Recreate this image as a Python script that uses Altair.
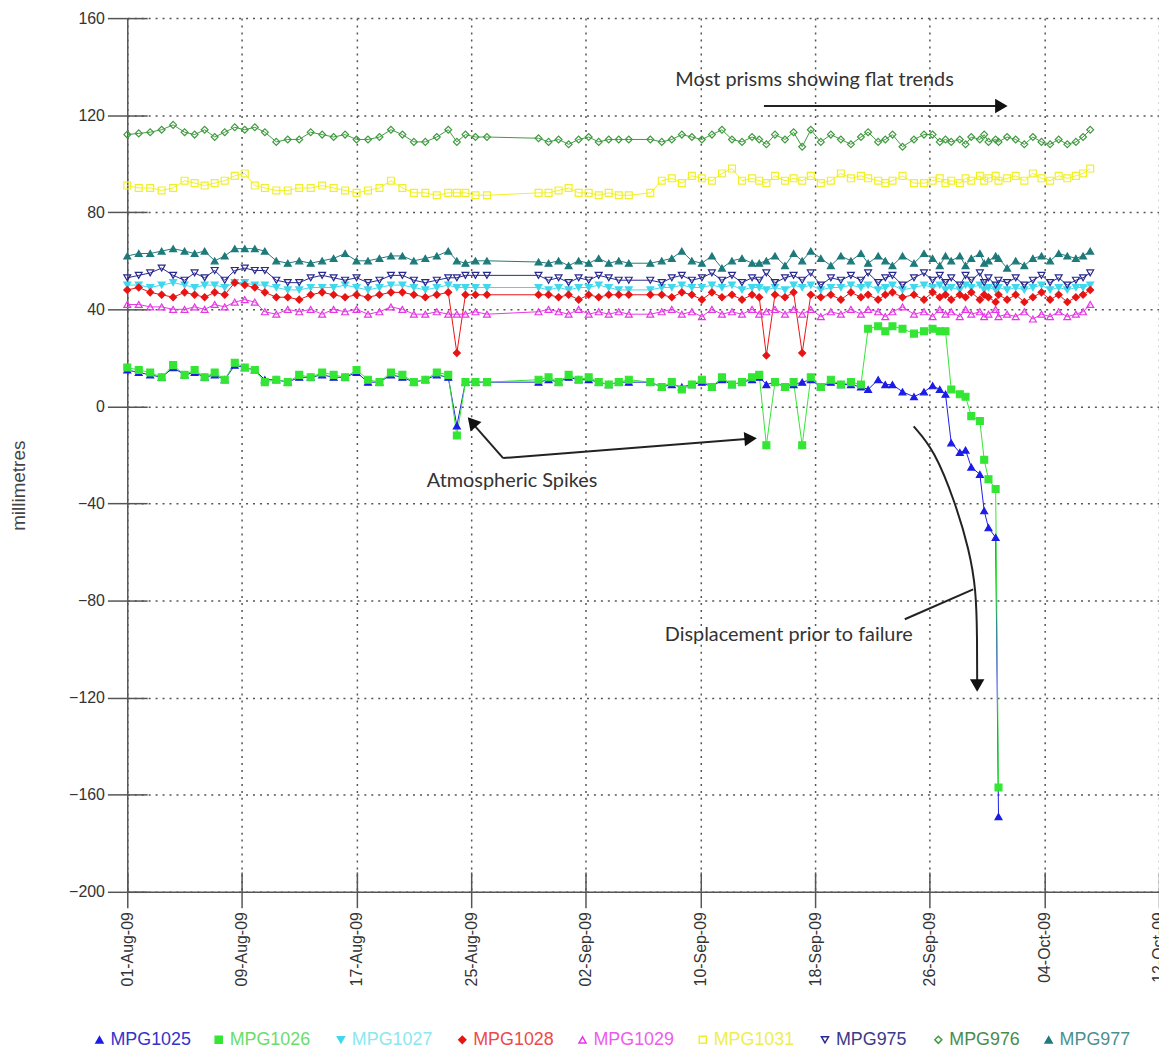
import altair as alt
import pandas as pd

# ---------------- data ----------------
# observation times, in days after 01-Aug-2009
DAYS = [
    0.0, 0.8, 1.6, 2.4, 3.2, 4.0, 4.7, 5.4, 6.1, 6.8,
    7.5, 8.2, 8.9, 9.6, 10.4, 11.2, 12.0, 12.8, 13.6, 14.4,
    15.2, 16.0, 16.8, 17.6, 18.4, 19.2, 20.0, 20.8, 21.6, 22.4,
    23.0, 23.6, 24.3, 25.1, 28.7, 29.4, 30.1, 30.8, 31.5, 32.2,
    32.9, 33.6, 34.3, 35.0, 36.5, 37.3, 38.0, 38.7, 39.4, 40.1,
    40.8, 41.5, 42.2, 42.9, 43.6, 44.1, 44.6, 45.2, 45.9, 46.5,
    47.1, 47.7, 48.4, 49.1, 49.8, 50.5, 51.2, 51.7, 52.4, 52.9,
    53.4, 54.1, 54.9, 55.6, 56.2, 56.7, 57.1, 57.5, 58.1, 58.5,
    58.9, 59.5, 59.8, 60.1, 60.6, 60.8, 61.4, 62.0, 62.6, 63.2,
    63.8, 64.4, 65.0, 65.6, 66.2, 66.7, 67.2,
]
N = None
MPG1025 = [
    15, 14, 13, 12, 16, 13, 14, 12, 13, 11,
    17, 16, 15, 11, 11, 10, 12, 12, 13, 12,
    12, 14, 10, 10, 13, 12, 10, 11, 13, 12,
    -8, 10, 10, 10, 10, 11, 10, 12, 11, 11,
    10, 9, 10, 10, 10, 8, 9, 8, 9, 10,
    8, 11, 9, 10, 11, 12, 9, 10, 8, 9,
    10, 11, 8, 10, 9, 9, 8, 7, 11, 9,
    9, 6, 4, 6, 8.5, 7, 5, -15, -19, -18,
    -25, -28, -43, -50, -54, -169, N, N, N, N,
    N, N, N, N, N, N, N,
]
MPG1026 = [
    16, 15, 14, 12, 17, 13, 15, 12, 14, 11,
    18, 16, 15, 10, 11, 10, 13, 12, 14, 13,
    12, 15, 11, 10, 14, 13, 10, 11, 14, 13,
    -12, 10, 10, 10, 11, 12, 10, 13, 11, 12,
    10, 9, 10, 11, 10, 8, 10, 7, 9, 11,
    8, 12, 9, 10, 12, 13, -16, 10, 8, 10,
    -16, 12, 8, 11, 9, 10, 9, 32, 33, 31,
    33, 32, 30, 31, 32, 31, 31, 7, 5, 4,
    -4, -6, -22, -30, -34, -157, N, N, N, N,
    N, N, N, N, N, N, N,
]
MPG1027 = [
    50, 50, 49, 50, 51, 50, 49, 50, 50, 49,
    51, 51, 50, 50, 49, 48, 48, 49, 49, 49,
    50, 49, 48, 49, 50, 50, 49, 48, 49, 50,
    49, 49, 49, 49, 49, 48, 49, 48, 49, 49,
    50, 49, 48, 48, 48, 49, 49, 50, 49, 49,
    50, 49, 50, 48, 49, 49, 48, 49, 48, 50,
    49, 50, 48, 49, 49, 50, 49, 50, 48, 49,
    50, 48, 49, 50, 49, 50, 48, 49, 48, 50,
    49, 50, 48, 49, 48, 49, 48, 49, 48, 49,
    50, 48, 49, 48, 49, 49, 50,
]
MPG1028 = [
    48, 49, 47, 46, 45, 47, 46, 45, 47, 46,
    51, 50, 49, 47, 45, 45, 44, 46, 47, 46,
    45, 46, 45, 46, 47, 47, 46, 45, 46, 47,
    22, 46, 46, 46, 46, 46, 45, 46, 44, 46,
    45, 46, 46, 46, 46, 46, 45, 47, 46, 44,
    47, 45, 46, 44, 46, 45, 21, 46, 45, 47,
    22, 46, 45, 46, 44, 47, 45, 46, 44, 46,
    47, 45, 46, 44, 47, 45, 46, 44, 46, 45,
    47, 44, 46, 45, 43, 46, 44, 46, 43, 45,
    47, 44, 46, 43, 45, 46, 48,
]
MPG1029 = [
    42, 42, 41, 41, 40, 40, 41, 40, 42, 41,
    43, 44, 43, 39, 38, 40, 39, 40, 38, 40,
    39, 40, 38, 39, 41, 40, 38, 38, 39, 38,
    38, 38, 39, 38, 39, 40, 39, 38, 40, 38,
    39, 38, 39, 38, 38, 39, 40, 38, 39, 37,
    40, 38, 39, 38, 40, 38, 39, 40, 38, 40,
    38, 40, 37, 39, 38, 40, 38, 40, 39, 37,
    39, 41, 38, 39, 37, 40, 38, 39, 37, 40,
    38, 39, 37, 38, 40, 37, 38, 37, 39, 36,
    38, 37, 39, 37, 38, 39, 42,
]
MPG1031 = [
    91, 90, 90, 89, 90, 93, 92, 91, 92, 93,
    95, 96, 91, 90, 89, 89, 90, 90, 91, 90,
    89, 88, 89, 90, 93, 90, 88, 88, 87, 88,
    88, 88, 87, 87, 88, 88, 89, 90, 88, 88,
    87, 88, 87, 87, 88, 93, 94, 92, 95, 94,
    93, 96, 98, 93, 94, 93, 92, 95, 93, 94,
    93, 95, 92, 93, 96, 94, 95, 94, 93, 92,
    93, 95, 92, 92, 93, 94, 92, 93, 92, 94,
    93, 95, 93, 94, 95, 93, 94, 95, 93, 96,
    94, 93, 95, 94, 95, 96, 98,
]
MPG975 = [
    53, 54, 55, 57, 54, 52, 55, 53, 56, 52,
    56, 57, 56, 56, 52, 51, 51, 53, 54, 53,
    52, 53, 51, 52, 54, 54, 52, 51, 52, 53,
    53, 54, 54, 54, 54, 52, 53, 51, 53, 52,
    54, 53, 52, 52, 52, 51, 53, 54, 52, 53,
    55, 52, 54, 51, 53, 52, 55, 51, 53, 54,
    52, 55, 50, 53, 52, 54, 52, 55, 51, 53,
    54, 50, 53, 55, 52, 54, 51, 53, 50, 54,
    52, 55, 51, 53, 50, 52, 51, 53, 50, 52,
    54, 51, 53, 50, 52, 53, 55,
]
MPG976 = [
    112, 112.5, 113, 114, 116, 113, 112, 114, 111, 113,
    115, 114, 115, 113, 109, 110, 110, 113, 112, 111,
    112, 110, 110, 111, 114, 112, 109, 109, 111, 114,
    109, 112, 111, 111, 110.5, 109, 110, 108, 110, 111,
    109, 110, 110, 110, 110, 109, 110, 112, 111, 110,
    112, 114, 110, 109, 111, 110, 108, 112, 110, 113,
    107, 114, 109, 112, 110, 108, 111, 113, 109, 110,
    112, 107, 110, 112, 112, 109, 110, 109, 110, 108,
    111, 110, 112, 109, 110, 109, 111, 110, 108, 111,
    109, 108, 110, 108, 109, 111, 114,
]
MPG977 = [
    62, 63, 63, 64, 65, 64, 63, 64, 60, 62,
    65, 65, 65, 64, 60, 59, 60, 59, 60, 61,
    63, 60, 60, 61, 62, 62, 60, 61, 62, 64,
    60, 59, 60, 60, 59.5, 59, 60, 58, 60, 59,
    61, 59, 60, 59, 59, 60, 61, 64, 60, 59,
    62, 57, 60, 61, 59, 59, 60, 62, 58, 63,
    60, 64, 61, 58, 62, 60, 63, 59, 62, 60,
    58, 62, 59, 63, 61, 58, 62, 60, 62, 58,
    61, 63, 59, 60, 62, 61, 57, 60, 58, 61,
    62, 60, 63, 62, 61, 62, 64,
]

SERIES = ["MPG1025", "MPG1026", "MPG1027", "MPG1028", "MPG1029",
          "MPG1031", "MPG975", "MPG976", "MPG977"]
VALUES = [MPG1025, MPG1026, MPG1027, MPG1028, MPG1029,
          MPG1031, MPG975, MPG976, MPG977]
COLORS = ["#1c1ce8", "#33e633", "#3fd8ec", "#e81414", "#e636e6",
          "#f0f028", "#28288f", "#3f9a3f", "#1f7a7a"]
LABEL_COLORS = ["#3434c8", "#6add6a", "#8ae8f0", "#ec4a4a", "#ec5cec",
                "#eeee50", "#3a3a8a", "#4a8c4e", "#4a9090"]
FILLS = [COLORS[0], COLORS[1], COLORS[2], COLORS[3], "transparent",
         "transparent", "transparent", "transparent", COLORS[8]]
SHAPES = ["triangle-up", "square", "triangle-down", "diamond", "triangle-up",
          "square", "triangle-down", "diamond", "triangle-up"]

Y_TICKS = [-200, -160, -120, -80, -40, 0, 40, 80, 120, 160]
X_TICKS = [(8, 1), (8, 9), (8, 17), (8, 25), (9, 2), (9, 10),
           (9, 18), (9, 26), (10, 4), (10, 12)]

# legend row below the axis (day offset of each key, millimetre level of the row)
LEGEND_DAY = [-1.94, 6.38, 14.91, 23.38, 31.77, 40.16, 48.69, 56.60, 64.30]
LEGEND_MM = -261.0

# annotations (day offset, millimetres)
NOTE_TEXT = ["Most prisms showing flat trends", "Atmospheric Spikes",
             "Displacement prior to failure"]
NOTE_DAY = [47.96, 26.85, 46.16]
NOTE_MM = [134.4, -30.7, -94.3]

ARROW_ID = ["top", "top", "spikeA", "spikeA", "spikeB", "spikeB", "lead", "lead"]
ARROW_DAY = [44.43, 60.9, 26.23, 24.25, 26.23, 43.4, 54.26, 59.03]
ARROW_MM = [123.8, 123.8, -21.3, -8.0, -21.3, -13.3, -87.7, -75.4]

CURVE_DAY = [54.88, 56.33, 57.79, 58.75, 59.24, 59.31, 59.31]
CURVE_MM = [-8.2, -18.0, -39.8, -59.0, -75.4, -96.3, -113.5]

HEAD_DAY = [61.0, 24.05, 43.5, 59.31]
HEAD_MM = [123.8, -6.4, -13.3, -115.0]
HEAD_ANGLE = [0, 228.9, 355.5, 90]

# ---------------- tables ----------------
assert all(len(v) == len(DAYS) for v in VALUES)
BASE = pd.Timestamp("2009-08-01")


def stamp(d):
    return (BASE + pd.Timedelta(days=d)).strftime("%Y-%m-%dT%H:%M:%S")


rows = []
for name, vals in zip(SERIES, VALUES):
    for d, v in zip(DAYS, vals):
        if v is None:
            continue
        rows.append({"series": name, "date": stamp(d), "mm": v})
df = pd.DataFrame(rows)

keys = pd.DataFrame({"series": SERIES, "date": [stamp(d) for d in LEGEND_DAY],
                     "mm": [LEGEND_MM] * len(SERIES)})
notes = pd.DataFrame({"txt": NOTE_TEXT, "date": [stamp(d) for d in NOTE_DAY], "mm": NOTE_MM})
arrows = pd.DataFrame({"aid": ARROW_ID, "ord": list(range(len(ARROW_ID))),
                       "date": [stamp(d) for d in ARROW_DAY], "mm": ARROW_MM})
curve = pd.DataFrame({"ord": list(range(len(CURVE_DAY))),
                      "date": [stamp(d) for d in CURVE_DAY], "mm": CURVE_MM})
heads = pd.DataFrame({"date": [stamp(d) for d in HEAD_DAY], "mm": HEAD_MM, "ang": HEAD_ANGLE})

# ---------------- scales / axes ----------------
FONT = "Liberation Sans"
GRID = dict(grid=True, gridColor="#555555", gridDash=[2, 5], gridWidth=1.5, gridOpacity=1)
xscale = alt.Scale(domain=[alt.DateTime(year=2009, month=8, date=1),
                           alt.DateTime(year=2009, month=10, date=12)])
yscale = alt.Scale(domain=[-200, 160], nice=False, zero=False)
xvals = [alt.DateTime(year=2009, month=m, date=d) for m, d in X_TICKS]

shape_scale = alt.Scale(domain=SERIES, range=SHAPES)
fill_scale = alt.Scale(domain=SERIES, range=FILLS)
stroke_scale = alt.Scale(domain=SERIES, range=COLORS)
color_scale = alt.Scale(domain=SERIES, range=COLORS)
label_scale = alt.Scale(domain=SERIES, range=LABEL_COLORS)

x_axis = alt.Axis(values=xvals, format="%d-%b-%y", labelAngle=270, labelFont=FONT,
                  labelFontSize=16, labelColor="#333333", labelPadding=4,
                  labelOverlap=False, labelFlush=False, tickSize=16, tickColor="#555555",
                  tickWidth=1.5, domainColor="#555555", domainWidth=1.5, title=None, **GRID)
y_axis = alt.Axis(values=Y_TICKS, title="millimetres", titleFont=FONT, titleFontSize=19,
                  titleFontWeight="normal", titleColor="#444444", titleX=-103, titleY=470,
                  titleBaseline="alphabetic", titleAngle=270,
                  labelFont=FONT, labelFontSize=16, labelColor="#333333", labelPadding=3,
                  labelOverlap=False, tickSize=20, tickColor="#555555", tickWidth=1.5,
                  domainColor="#555555", domainWidth=1.5, **GRID)
x_inner = alt.Axis(values=xvals, orient="bottom", offset=-20, labels=False, domain=False,
                   grid=False, tickSize=20, tickColor="#555555", tickWidth=1.5, title=None)
y_inner = alt.Axis(values=Y_TICKS, orient="left", offset=-20, labels=False, domain=False,
                   grid=False, tickSize=20, tickColor="#555555", tickWidth=1.5, title=None)

X_PLAIN = dict(scale=xscale, axis=None)
Y_PLAIN = dict(scale=yscale, axis=None)

lines = alt.Chart(df).mark_line(strokeWidth=1).encode(
    x=alt.X("date:T", scale=xscale, axis=x_axis),
    y=alt.Y("mm:Q", scale=yscale, axis=y_axis),
    color=alt.Color("series:N", scale=color_scale, legend=None),
)

points = alt.Chart(df).mark_point(size=48, strokeWidth=1.2, opacity=1).encode(
    x=alt.X("date:T", scale=xscale, axis=x_inner),
    y=alt.Y("mm:Q", scale=yscale, axis=y_inner),
    shape=alt.Shape("series:N", scale=shape_scale, legend=None),
    fill=alt.Fill("series:N", scale=fill_scale, legend=None),
    stroke=alt.Stroke("series:N", scale=stroke_scale, legend=None),
)

# legend row (keys drawn with the same shape / fill / stroke scales)
key_symbols = alt.Chart(keys).mark_point(size=50, strokeWidth=1.5, opacity=1).encode(
    x=alt.X("date:T", **X_PLAIN),
    y=alt.Y("mm:Q", **Y_PLAIN),
    shape=alt.Shape("series:N", scale=shape_scale, legend=None),
    fill=alt.Fill("series:N", scale=fill_scale, legend=None),
    stroke=alt.Stroke("series:N", scale=stroke_scale, legend=None),
)
key_labels = alt.Chart(keys).mark_text(align="left", baseline="middle", dx=11,
                                       font=FONT, fontSize=18).encode(
    x=alt.X("date:T", **X_PLAIN),
    y=alt.Y("mm:Q", **Y_PLAIN),
    text="series:N",
    color=alt.Color("series:N", scale=label_scale, legend=None),
)

arrow_lines = alt.Chart(arrows).mark_line(color="#222222", strokeWidth=2).encode(
    x=alt.X("date:T", **X_PLAIN),
    y=alt.Y("mm:Q", **Y_PLAIN),
    detail="aid:N",
    order="ord:Q",
)
curve_line = alt.Chart(curve).mark_line(color="#222222", strokeWidth=2, interpolate="basis").encode(
    x=alt.X("date:T", **X_PLAIN),
    y=alt.Y("mm:Q", **Y_PLAIN),
    order="ord:Q",
)
arrow_heads = alt.Chart(heads).mark_point(shape="triangle-right", filled=True, size=210,
                                          color="#111111", opacity=1).encode(
    x=alt.X("date:T", **X_PLAIN),
    y=alt.Y("mm:Q", **Y_PLAIN),
    angle=alt.Angle("ang:Q", scale=None),
)
note_text = alt.Chart(notes).mark_text(font="Lato", fontSize=20, color="#333333").encode(
    x=alt.X("date:T", **X_PLAIN),
    y=alt.Y("mm:Q", **Y_PLAIN),
    text="txt:N",
)

chart = alt.layer(
    lines, points, arrow_lines, curve_line, arrow_heads, note_text, key_symbols, key_labels
).resolve_axis(
    x="independent", y="independent"
).resolve_scale(
    color="independent"
).properties(
    width=1038, height=879,
    autosize=alt.AutoSizeParams(type="none"),
    padding={"left": 120, "top": 7, "right": 0, "bottom": 157},
).configure_view(stroke=None)

chart.save("out.html", embed_options={"renderer": "svg", "actions": False})
